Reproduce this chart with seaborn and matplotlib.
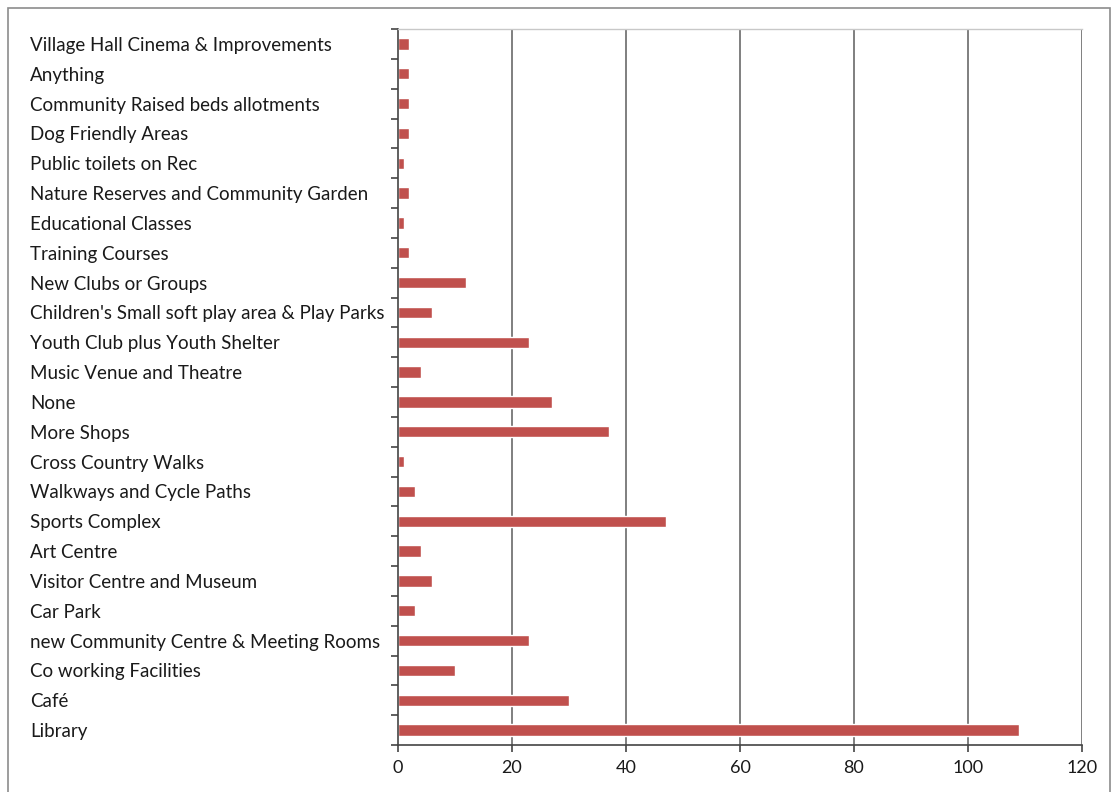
import matplotlib
matplotlib.use("Agg")
import matplotlib.pyplot as plt
import seaborn as sns
import pandas as pd
import numpy as np
from matplotlib.patches import Rectangle

categories = [
    "Village Hall Cinema & Improvements",
    "Anything",
    "Community Raised beds allotments",
    "Dog Friendly Areas",
    "Public toilets on Rec",
    "Nature Reserves and Community Garden",
    "Educational Classes",
    "Training Courses",
    "New Clubs or Groups",
    "Children's Small soft play area & Play Parks",
    "Youth Club plus Youth Shelter",
    "Music Venue and Theatre",
    "None",
    "More Shops",
    "Cross Country Walks",
    "Walkways and Cycle Paths",
    "Sports Complex",
    "Art Centre",
    "Visitor Centre and Museum",
    "Car Park",
    "new Community Centre & Meeting Rooms",
    "Co working Facilities",
    "Café",
    "Library",
]
values = [2, 2, 2, 2, 1, 2, 1, 2, 12, 6, 23, 4, 27, 37, 1, 3, 47, 4, 6, 3, 23, 10, 30, 109]
x_ticks = [0, 20, 40, 60, 80, 100, 120]

df = pd.DataFrame({"category": categories, "value": values})

sns.set_theme(style="white")
plt.rcParams["font.family"] = ["Lato", "DejaVu Sans"]

fig = plt.figure(figsize=(11.12, 7.92), dpi=100)
ax = fig.add_axes([398/1112, 47/792, (1082-398)/1112, (745-29)/792])

sns.barplot(data=df, y="category", x="value", orient="h", color="#C0504D",
            width=0.38, ax=ax, saturation=1)

ax.set_xlim(0, 120)
ax.set_ylim(len(categories) - 0.5, -0.5)
ax.set_xticks(x_ticks)
ax.set_xticklabels([str(t) for t in x_ticks], fontsize=13, color="#1a1a1a")
ax.set_xlabel("")
ax.set_ylabel("")

# vertical gridlines
for t in x_ticks[1:]:
    ax.axvline(t, color="#7f7f7f", lw=1.4, zorder=0)

# y ticks: labels at centres, tick marks at boundaries
ax.set_yticks(range(len(categories)))
ax.set_yticklabels(categories, fontsize=13.5, color="#1a1a1a")
ax.set_yticks(np.arange(-0.5, len(categories), 1), minor=True)
ax.tick_params(axis="y", which="major", length=0, pad=265)
ax.tick_params(axis="y", which="minor", length=5, width=1.2, color="#444444", direction="out", left=True)
for lab in ax.get_yticklabels():
    lab.set_horizontalalignment("left")
ax.tick_params(axis="x", which="major", length=5, width=1.2, color="#444444",
               direction="out", bottom=True, pad=6)

for s in ["left", "bottom"]:
    ax.spines[s].set_color("#444444")
    ax.spines[s].set_linewidth(1.2)
ax.spines["right"].set_visible(False)
ax.spines["top"].set_color("#c8c8c8")
ax.spines["top"].set_linewidth(1.0)

# outer frame
fig.patches.append(Rectangle((8/1112, -0.01), (1110-8)/1112, (792-8)/792 + 0.01,
                             transform=fig.transFigure, fill=False,
                             edgecolor="#8c8c8c", lw=1.2))

fig.savefig("out.png", dpi=100)
